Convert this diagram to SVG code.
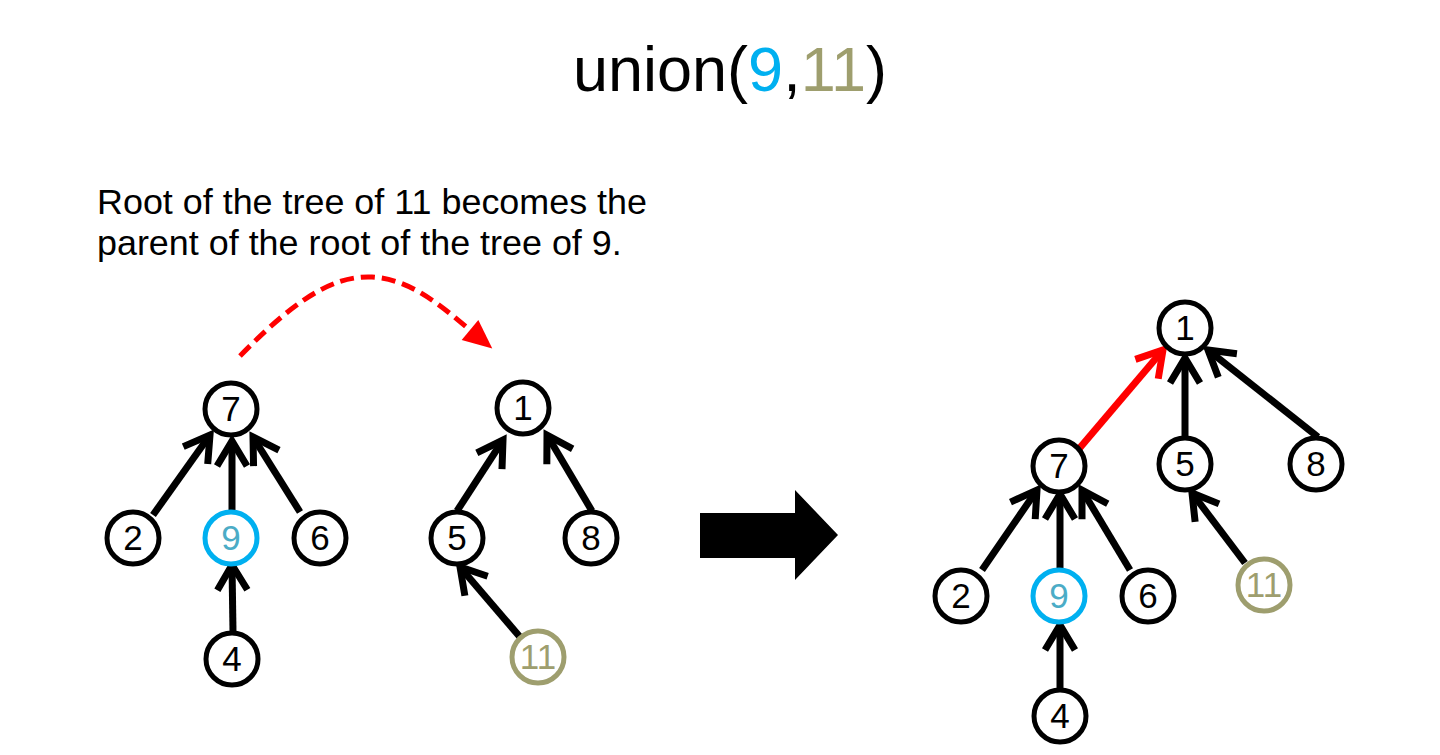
<svg xmlns="http://www.w3.org/2000/svg" width="1440" height="755" viewBox="0 0 1440 755">
<style>
.n circle{fill:#fff;stroke:#000;stroke-width:5}
.n text{font-family:"Liberation Sans",Arial,sans-serif;font-size:35px;text-anchor:middle;fill:#000}
.n.blue circle{stroke:#00B0F0}
.n.blue text{fill:#4BACC6}
.n.olive circle{stroke:#9E9E6E}
.n.olive text{fill:#9E9E6E}
.e{stroke:#000;stroke-width:7;fill:none;marker-end:url(#ah)}
.e.red{stroke:#FF0000;marker-end:url(#ahr)}
.lbl{font-family:"Liberation Sans",Arial,sans-serif;fill:#000}
</style>
<defs>
<marker id="ah" markerUnits="userSpaceOnUse" markerWidth="44" markerHeight="44" viewBox="-34 -22 44 44" refX="0" refY="0" orient="auto">
<path d="M-25,-15 L0,0 L-25,15" fill="none" stroke="#000" stroke-width="7"/>
</marker>
<marker id="ahr" markerUnits="userSpaceOnUse" markerWidth="44" markerHeight="44" viewBox="-34 -22 44 44" refX="0" refY="0" orient="auto">
<path d="M-25,-15 L0,0 L-25,15" fill="none" stroke="#FF0000" stroke-width="7"/>
</marker>
<marker id="tri" markerUnits="userSpaceOnUse" markerWidth="40" markerHeight="40" viewBox="-5 -20 40 40" refX="0" refY="0" orient="auto">
<path d="M0,-13 L29,0 L0,13 Z" fill="#FF0000"/>
</marker>
</defs>
<rect width="1440" height="755" fill="#fff"/>
<text class="lbl" x="730" y="91" font-size="63" text-anchor="middle">union(<tspan fill="#00B0F0">9</tspan>,<tspan fill="#9E9E6E">11</tspan>)</text>
<text class="lbl" font-size="35.9"><tspan x="97" y="214">Root of the tree of 11 becomes the</tspan><tspan x="97" y="255">parent of the root of the tree of 9.</tspan></text>
<g id="connectors">
<path d="M240,356 C290,305 330,275 372,277 C410,279 440,305 470,330" fill="none" stroke="#FF0000" stroke-width="5" stroke-dasharray="14 7" marker-end="url(#tri)"/>
<line class="e" x1="153" y1="515" x2="210" y2="435"/>
<line class="e" x1="232" y1="510" x2="232" y2="441"/>
<line class="e" x1="300" y1="512" x2="253" y2="437"/>
<line class="e" x1="233" y1="632" x2="232" y2="565"/>
<line class="e" x1="457" y1="511" x2="503" y2="440"/>
<line class="e" x1="592" y1="511" x2="547" y2="435"/>
<line class="e" x1="520" y1="637" x2="460" y2="567"/>
<line class="e red" x1="1078" y1="450" x2="1163" y2="350"/>
<line class="e" x1="1185" y1="436" x2="1185" y2="358"/>
<line class="e" x1="1318" y1="437" x2="1208" y2="350"/>
<line class="e" x1="982" y1="570" x2="1037" y2="490"/>
<line class="e" x1="1060" y1="569" x2="1060" y2="494"/>
<line class="e" x1="1130" y1="570" x2="1082" y2="490"/>
<line class="e" x1="1245" y1="563" x2="1192" y2="493"/>
<line class="e" x1="1060" y1="689" x2="1060" y2="625"/>
<polygon points="700,513 795,513 795,490 838,535 795,580 795,558 700,558" fill="#000"/>
</g>
<g id="L7" class="n"><circle cx="231" cy="409" r="26"/><text x="231" y="421">7</text></g>
<g id="L2" class="n"><circle cx="133" cy="538" r="26"/><text x="133" y="550">2</text></g>
<g id="L9" class="n blue"><circle cx="231" cy="538" r="26"/><text x="231" y="550">9</text></g>
<g id="L6" class="n"><circle cx="320" cy="538" r="26"/><text x="320" y="550">6</text></g>
<g id="L4" class="n"><circle cx="232" cy="659" r="26"/><text x="232" y="671">4</text></g>
<g id="L1" class="n"><circle cx="523" cy="408" r="26"/><text x="523" y="420">1</text></g>
<g id="L5" class="n"><circle cx="457" cy="538" r="26"/><text x="457" y="550">5</text></g>
<g id="L8" class="n"><circle cx="591" cy="538" r="26"/><text x="591" y="550">8</text></g>
<g id="L11" class="n olive"><circle cx="538" cy="657" r="26"/><text x="538" y="669">11</text></g>
<g id="R1" class="n"><circle cx="1185" cy="328" r="26"/><text x="1185" y="340">1</text></g>
<g id="R7" class="n"><circle cx="1059" cy="466" r="26"/><text x="1059" y="478">7</text></g>
<g id="R5" class="n"><circle cx="1185" cy="464" r="26"/><text x="1185" y="476">5</text></g>
<g id="R8" class="n"><circle cx="1316" cy="464" r="26"/><text x="1316" y="476">8</text></g>
<g id="R2" class="n"><circle cx="961" cy="596" r="26"/><text x="961" y="608">2</text></g>
<g id="R9" class="n blue"><circle cx="1059" cy="596" r="26"/><text x="1059" y="608">9</text></g>
<g id="R6" class="n"><circle cx="1148" cy="596" r="26"/><text x="1148" y="608">6</text></g>
<g id="R11" class="n olive"><circle cx="1264" cy="585" r="26"/><text x="1264" y="597">11</text></g>
<g id="R4" class="n"><circle cx="1060" cy="716" r="26"/><text x="1060" y="728">4</text></g>
</svg>
